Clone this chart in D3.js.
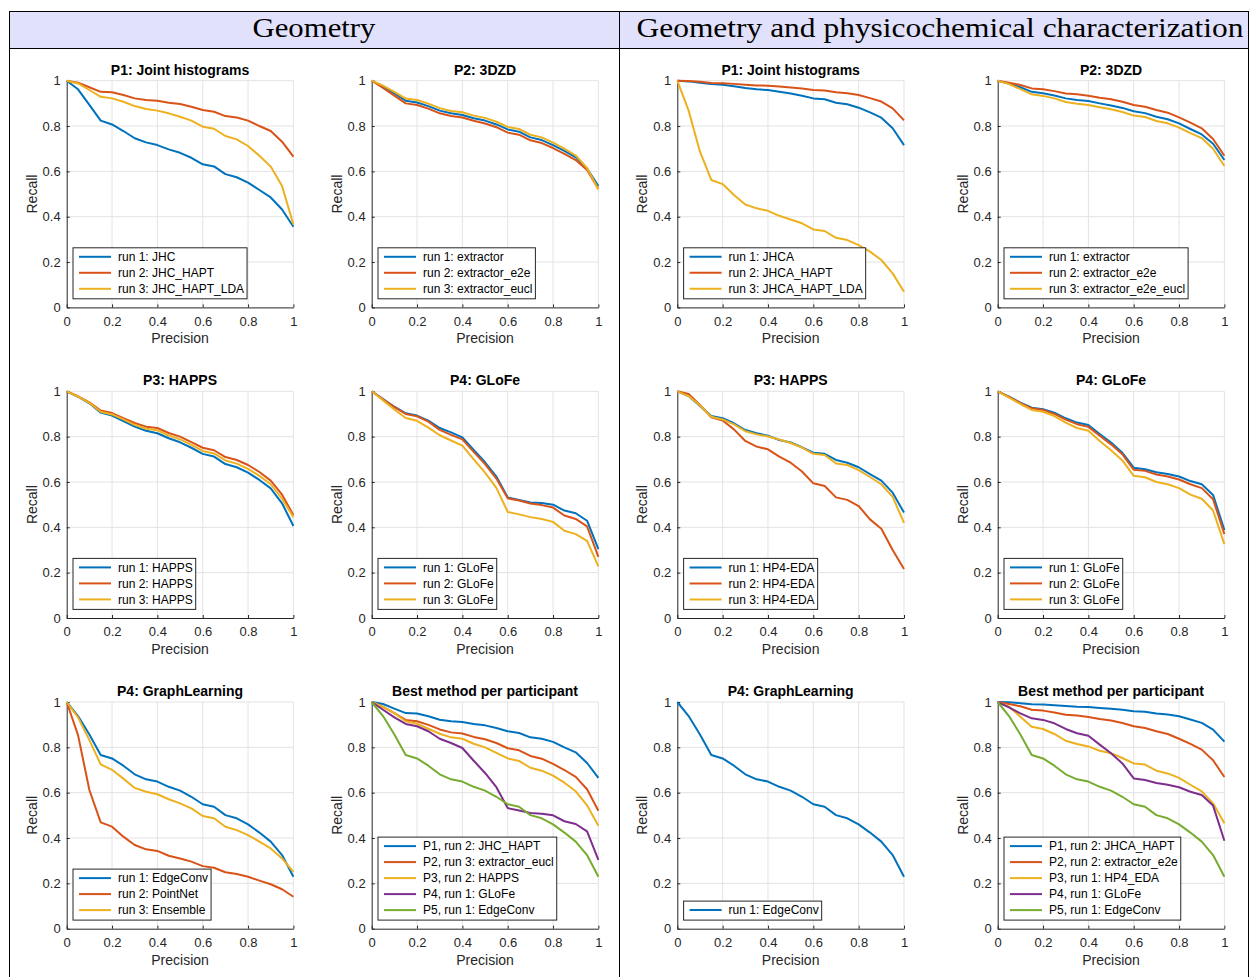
<!DOCTYPE html>
<html>
<head>
<meta charset="utf-8">
<script src="https://cdn.jsdelivr.net/npm/d3@7"></script>
<style>
  body { margin: 0; background: #fff; }
  svg { display: block; font-family: "Liberation Sans", Arial, Helvetica, sans-serif; }
</style>
</head>
<body>
<svg id="fig" width="1249" height="977"></svg>
<script>
// Precision levels at which recall was sampled
const precision = [0, 0.05, 0.1, 0.15, 0.2, 0.25, 0.3, 0.35, 0.4, 0.45, 0.5, 0.55, 0.6, 0.65, 0.7, 0.75, 0.8, 0.85, 0.9, 0.95, 1];
const tickValues = [0, 0.2, 0.4, 0.6, 0.8, 1];

// ---- Geometry only ----
const geoJHC          = [1.0,0.962,0.893,0.824,0.807,0.778,0.746,0.728,0.716,0.697,0.682,0.660,0.631,0.622,0.588,0.574,0.550,0.518,0.485,0.432,0.356];
const geoJHC_HAPT     = [1.0,0.991,0.971,0.951,0.949,0.937,0.922,0.915,0.912,0.903,0.897,0.885,0.871,0.863,0.844,0.838,0.824,0.800,0.778,0.731,0.665];
const geoJHC_HAPT_LDA = [1.0,0.988,0.959,0.929,0.922,0.907,0.888,0.875,0.868,0.856,0.841,0.824,0.797,0.788,0.756,0.741,0.712,0.669,0.621,0.535,0.366];

const geoExtractor     = [1.0,0.974,0.944,0.912,0.904,0.888,0.868,0.856,0.849,0.834,0.824,0.807,0.785,0.775,0.750,0.738,0.716,0.690,0.662,0.613,0.535];
const geoExtractorE2e  = [1.0,0.968,0.934,0.900,0.893,0.877,0.856,0.844,0.838,0.823,0.811,0.795,0.771,0.762,0.737,0.725,0.703,0.677,0.650,0.606,0.522];
const geoExtractorEucl = [1.0,0.978,0.951,0.921,0.915,0.899,0.879,0.866,0.861,0.846,0.836,0.819,0.796,0.787,0.762,0.750,0.727,0.700,0.670,0.615,0.520];

const geoHapps1 = [1.0,0.976,0.947,0.906,0.893,0.869,0.844,0.826,0.815,0.793,0.775,0.751,0.724,0.712,0.679,0.665,0.641,0.609,0.572,0.506,0.406];
const geoHapps2 = [1.0,0.978,0.951,0.915,0.904,0.882,0.860,0.844,0.838,0.816,0.800,0.776,0.751,0.740,0.710,0.697,0.675,0.644,0.606,0.544,0.454];
const geoHapps3 = [1.0,0.977,0.949,0.910,0.898,0.876,0.852,0.835,0.828,0.805,0.788,0.764,0.737,0.726,0.695,0.681,0.658,0.627,0.590,0.526,0.445];

const geoGlofe1 = [1.0,0.966,0.932,0.903,0.893,0.871,0.838,0.819,0.797,0.741,0.687,0.624,0.532,0.521,0.510,0.507,0.500,0.474,0.462,0.429,0.304];
const geoGlofe2 = [1.0,0.965,0.930,0.900,0.890,0.866,0.830,0.808,0.788,0.733,0.679,0.615,0.528,0.518,0.505,0.498,0.487,0.452,0.437,0.404,0.270];
const geoGlofe3 = [1.0,0.960,0.920,0.882,0.870,0.840,0.806,0.783,0.760,0.700,0.641,0.574,0.468,0.457,0.445,0.437,0.424,0.385,0.370,0.340,0.228];

const edgeConv = [1.0,0.938,0.857,0.766,0.751,0.719,0.681,0.659,0.649,0.626,0.609,0.582,0.549,0.538,0.501,0.487,0.460,0.424,0.384,0.325,0.229];
const pointNet = [1.0,0.854,0.612,0.469,0.450,0.406,0.369,0.350,0.343,0.322,0.310,0.296,0.276,0.269,0.249,0.241,0.229,0.212,0.196,0.174,0.141];
const ensemble = [1.0,0.932,0.832,0.725,0.701,0.662,0.621,0.604,0.593,0.571,0.553,0.531,0.497,0.487,0.450,0.435,0.413,0.384,0.354,0.310,0.251];

// ---- Geometry and physicochemical characterization ----
const phyJHCA          = [1.0,0.997,0.991,0.985,0.982,0.976,0.968,0.962,0.959,0.951,0.944,0.934,0.922,0.918,0.903,0.896,0.881,0.860,0.837,0.790,0.716];
const phyJHCA_HAPT     = [1.0,0.999,0.995,0.990,0.989,0.986,0.982,0.979,0.978,0.974,0.970,0.966,0.959,0.957,0.949,0.945,0.937,0.923,0.908,0.878,0.825];
const phyJHCA_HAPT_LDA = [1.0,0.868,0.687,0.562,0.544,0.496,0.454,0.437,0.426,0.404,0.388,0.371,0.344,0.337,0.307,0.297,0.275,0.246,0.209,0.150,0.069];

const phyExtractor        = [1.0,0.987,0.971,0.951,0.945,0.935,0.922,0.915,0.910,0.900,0.891,0.880,0.865,0.857,0.841,0.830,0.812,0.787,0.763,0.722,0.650];
const phyExtractorE2e     = [1.0,0.991,0.981,0.966,0.962,0.954,0.944,0.940,0.934,0.925,0.918,0.907,0.893,0.885,0.871,0.859,0.838,0.815,0.790,0.743,0.669];
const phyExtractorE2eEucl = [1.0,0.985,0.963,0.940,0.933,0.922,0.906,0.898,0.893,0.883,0.874,0.862,0.846,0.840,0.822,0.812,0.793,0.769,0.747,0.700,0.624];

const phyHp4Eda1 = [1.0,0.979,0.935,0.891,0.881,0.859,0.829,0.815,0.804,0.785,0.774,0.753,0.729,0.724,0.697,0.685,0.665,0.635,0.606,0.553,0.465];
const phyHp4Eda2 = [1.0,0.988,0.940,0.885,0.871,0.832,0.781,0.756,0.744,0.712,0.685,0.646,0.594,0.582,0.532,0.521,0.494,0.435,0.394,0.300,0.216];
const phyHp4Eda3 = [1.0,0.979,0.937,0.888,0.876,0.854,0.824,0.810,0.801,0.787,0.772,0.752,0.724,0.719,0.682,0.675,0.652,0.622,0.590,0.534,0.420];

const phyGlofe1 = [1.0,0.976,0.950,0.928,0.921,0.906,0.881,0.862,0.851,0.812,0.774,0.729,0.663,0.656,0.643,0.635,0.624,0.604,0.590,0.543,0.388];
const phyGlofe2 = [1.0,0.975,0.948,0.925,0.918,0.900,0.875,0.855,0.843,0.804,0.766,0.722,0.654,0.649,0.633,0.624,0.611,0.590,0.573,0.524,0.370];
const phyGlofe3 = [1.0,0.972,0.944,0.918,0.910,0.891,0.862,0.838,0.826,0.781,0.740,0.695,0.627,0.621,0.600,0.590,0.573,0.544,0.526,0.474,0.326];

// Section headings
const sectionTitles = ["Geometry", "Geometry and physicochemical characterization"];

// MATLAB default line colour order
const palette = ["#0072BD", "#D95319", "#EDB120", "#7E2F8E", "#77AC30"];

// Subplot definitions (column, row, title, curves, legend entries)
const panels = [
  { col: 0, row: 0, title: "P1: Joint histograms", series: [geoJHC, geoJHC_HAPT, geoJHC_HAPT_LDA],
    labels: ["run 1: JHC", "run 2: JHC_HAPT", "run 3: JHC_HAPT_LDA"] },
  { col: 1, row: 0, title: "P2: 3DZD", series: [geoExtractor, geoExtractorE2e, geoExtractorEucl],
    labels: ["run 1: extractor", "run 2: extractor_e2e", "run 3: extractor_eucl"] },
  { col: 0, row: 1, title: "P3: HAPPS", series: [geoHapps1, geoHapps2, geoHapps3],
    labels: ["run 1: HAPPS", "run 2: HAPPS", "run 3: HAPPS"] },
  { col: 1, row: 1, title: "P4: GLoFe", series: [geoGlofe1, geoGlofe2, geoGlofe3],
    labels: ["run 1: GLoFe", "run 2: GLoFe", "run 3: GLoFe"] },
  { col: 0, row: 2, title: "P4: GraphLearning", series: [edgeConv, pointNet, ensemble],
    labels: ["run 1: EdgeConv", "run 2: PointNet", "run 3: Ensemble"] },
  { col: 1, row: 2, title: "Best method per participant",
    series: [geoJHC_HAPT, geoExtractorEucl, geoHapps2, geoGlofe1, edgeConv],
    labels: ["P1, run 2: JHC_HAPT", "P2, run 3: extractor_eucl", "P3, run 2: HAPPS", "P4, run 1: GLoFe", "P5, run 1: EdgeConv"] },

  { col: 2, row: 0, title: "P1: Joint histograms", series: [phyJHCA, phyJHCA_HAPT, phyJHCA_HAPT_LDA],
    labels: ["run 1: JHCA", "run 2: JHCA_HAPT", "run 3: JHCA_HAPT_LDA"] },
  { col: 3, row: 0, title: "P2: 3DZD", series: [phyExtractor, phyExtractorE2e, phyExtractorE2eEucl],
    labels: ["run 1: extractor", "run 2: extractor_e2e", "run 3: extractor_e2e_eucl"] },
  { col: 2, row: 1, title: "P3: HAPPS", series: [phyHp4Eda1, phyHp4Eda2, phyHp4Eda3],
    labels: ["run 1: HP4-EDA", "run 2: HP4-EDA", "run 3: HP4-EDA"] },
  { col: 3, row: 1, title: "P4: GLoFe", series: [phyGlofe1, phyGlofe2, phyGlofe3],
    labels: ["run 1: GLoFe", "run 2: GLoFe", "run 3: GLoFe"] },
  { col: 2, row: 2, title: "P4: GraphLearning", series: [edgeConv],
    labels: ["run 1: EdgeConv"] },
  { col: 3, row: 2, title: "Best method per participant",
    series: [phyJHCA_HAPT, phyExtractorE2e, phyHp4Eda1, phyGlofe1, edgeConv],
    labels: ["P1, run 2: JHCA_HAPT", "P2, run 2: extractor_e2e", "P3, run 1: HP4_EDA", "P4, run 1: GLoFe", "P5, run 1: EdgeConv"] }
];

// ---- layout ----
const colLeft = [66.7, 371.7, 677.3, 997.7];
const rowTop = [80.7, 391.3, 702];
const plotSize = 226.7;
const axisColor = "#262626";
const gridColor = "#e3e3e3";

const svg = d3.select("#fig");
svg.append("rect").attr("width", 1249).attr("height", 977).attr("fill", "#fff");

// Table-style heading band with the two section titles
const band = svg.append("g");
band.append("rect").attr("x", 9).attr("y", 11).attr("width", 1240).attr("height", 37).attr("fill", "#e1e1fb");
band.append("line").attr("x1", 9).attr("x2", 1249).attr("y1", 11.5).attr("y2", 11.5).attr("stroke", "#000");
band.append("line").attr("x1", 9).attr("x2", 1249).attr("y1", 48.5).attr("y2", 48.5).attr("stroke", "#000");
[9.5, 619.5, 1248.5].forEach(xv => {
  band.append("line").attr("x1", xv).attr("x2", xv).attr("y1", 11).attr("y2", 977).attr("stroke", "#000");
});
const headCenters = [314, 940];
const headWidths = [123, 607];
sectionTitles.forEach((t, i) => {
  band.append("text")
    .attr("x", headCenters[i]).attr("y", 37)
    .attr("text-anchor", "middle")
    .attr("font-family", "'Liberation Serif', 'DejaVu Serif', serif")
    .attr("font-size", 28)
    .attr("textLength", headWidths[i])
    .attr("lengthAdjust", "spacingAndGlyphs")
    .attr("fill", "#000")
    .text(t);
});

const fmt = d => d3.format("~g")(d);

panels.forEach(p => {
  const left = colLeft[p.col], top = rowTop[p.row];
  const x = d3.scaleLinear().domain([0, 1]).range([left, left + plotSize]);
  const y = d3.scaleLinear().domain([0, 1]).range([top + plotSize, top]);
  const g = svg.append("g");

  // grid
  const gridTicks = tickValues.filter(v => v > 0);
  g.selectAll(null).data(gridTicks).enter().append("line")
    .attr("x1", d => x(d)).attr("x2", d => x(d)).attr("y1", y(0)).attr("y2", y(1))
    .attr("stroke", gridColor).attr("stroke-width", 1);
  g.selectAll(null).data(gridTicks).enter().append("line")
    .attr("y1", d => y(d)).attr("y2", d => y(d)).attr("x1", x(0)).attr("x2", x(1))
    .attr("stroke", gridColor).attr("stroke-width", 1);

  // axes
  const xAxis = g.append("g").attr("transform", `translate(0,${y(0)})`)
    .call(d3.axisBottom(x).tickValues(tickValues).tickFormat(fmt).tickSizeInner(-3).tickSizeOuter(0).tickPadding(9));
  const yAxis = g.append("g").attr("transform", `translate(${x(0)},0)`)
    .call(d3.axisLeft(y).tickValues(tickValues).tickFormat(fmt).tickSizeInner(-3).tickSizeOuter(0).tickPadding(6));
  [xAxis, yAxis].forEach(ax => {
    ax.attr("font-family", null).attr("font-size", null);
    ax.select(".domain").attr("stroke", axisColor).attr("stroke-width", 1);
    ax.selectAll(".tick line").attr("stroke", axisColor);
    ax.selectAll(".tick text").attr("fill", axisColor).attr("font-size", 13);
  });

  // curves
  const line = d3.line().x((d, i) => x(precision[i])).y(d => y(d));
  p.series.forEach((s, i) => {
    g.append("path").datum(s).attr("d", line)
      .attr("fill", "none").attr("stroke", palette[i]).attr("stroke-width", 2)
      .attr("stroke-linejoin", "round").attr("stroke-linecap", "butt");
  });

  // title and axis labels
  g.append("text").attr("x", (x(0) + x(1)) / 2).attr("y", top - 6)
    .attr("text-anchor", "middle").attr("font-weight", "bold").attr("font-size", 14).attr("fill", "#000")
    .text(p.title);
  g.append("text").attr("x", (x(0) + x(1)) / 2).attr("y", y(0) + 36)
    .attr("text-anchor", "middle").attr("font-size", 14).attr("fill", axisColor)
    .text("Precision");
  g.append("text")
    .attr("transform", `translate(${left - 30},${(y(0) + y(1)) / 2}) rotate(-90)`)
    .attr("text-anchor", "middle").attr("font-size", 14).attr("fill", axisColor)
    .text("Recall");

  // legend (lower-left corner)
  const n = p.labels.length;
  const boxH = 16 * n + 3;
  const boxX = left + 6.3;
  const boxY = y(0) - 8.6 - boxH;
  const lg = g.append("g");
  const box = lg.append("rect").attr("x", boxX).attr("y", boxY).attr("height", boxH)
    .attr("fill", "#fff").attr("stroke", "#262626").attr("stroke-width", 1);
  let maxW = 0;
  p.labels.forEach((lab, i) => {
    const cy = boxY + 9 + 16 * i;
    lg.append("line").attr("x1", boxX + 6).attr("x2", boxX + 38).attr("y1", cy).attr("y2", cy)
      .attr("stroke", palette[i]).attr("stroke-width", 2);
    const t = lg.append("text").attr("x", boxX + 45).attr("y", cy).attr("dy", "0.35em")
      .attr("font-size", 12).attr("fill", "#000").text(lab);
    maxW = Math.max(maxW, t.node().getComputedTextLength());
  });
  box.attr("width", 45 + maxW + 3);
});
</script>
</body>
</html>
